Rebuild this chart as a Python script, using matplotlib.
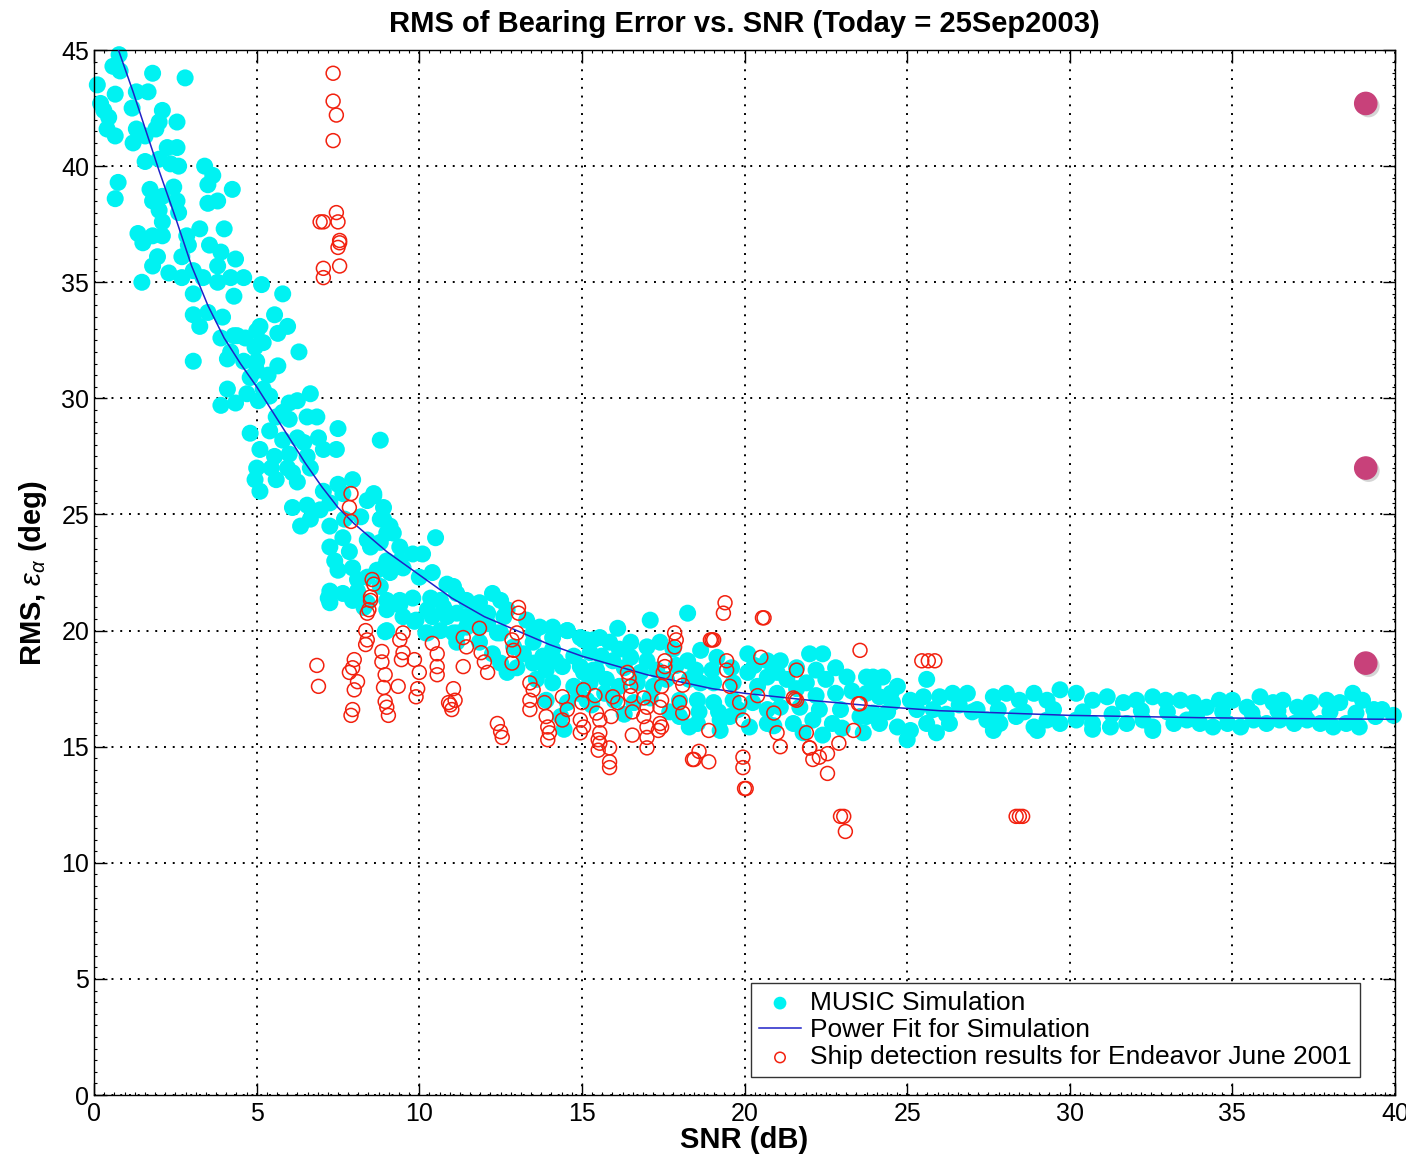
import matplotlib
matplotlib.use("Agg")
import matplotlib.pyplot as plt
import matplotlib.patheffects as pe
from matplotlib.ticker import MultipleLocator

plt.rcParams['font.family'] = ['Liberation Sans', 'DejaVu Sans']
plt.rcParams['mathtext.fontset'] = 'custom'
plt.rcParams['mathtext.rm'] = 'Liberation Sans'
plt.rcParams['mathtext.it'] = 'Liberation Sans:italic'
plt.rcParams['mathtext.bf'] = 'Liberation Sans:bold'

# MUSIC simulation (cyan dots)
sim_x = [0.77, 0.58, 0.8, 1.8, 2.8, 0.1, 0.65, 1.3, 1.66, 0.2, 0.3, 0.45, 0.4, 0.65, 1.17, 2.1, 2.0, 1.9,
         2.55, 1.3, 1.57, 1.2, 2.25, 2.55, 1.57, 2.0, 2.35, 2.6, 3.4, 3.65, 0.74, 0.65, 1.72, 1.8, 2.1, 2.45,
         2.55, 2.6, 3.5, 4.25, 3.5, 3.8, 2.0, 2.1, 2.1, 1.8, 1.35, 1.5, 3.25, 4.0, 2.85, 2.9, 3.55, 3.9, 3.8,
         4.35, 1.95, 1.8, 2.7, 2.3, 2.7, 3.05, 3.35, 3.8, 4.2, 4.6, 1.47, 5.15, 3.05, 4.3, 5.8, 3.05, 3.5, 3.95,
         5.55, 3.25, 4.4, 5.0, 5.95, 5.65,
         3.9, 4.3, 4.65, 5.1, 5.2, 4.95, 4.2, 4.1, 4.6, 5.0, 3.05, 6.3, 5.65, 5.35, 5.0, 4.8, 5.2, 4.7, 5.4,
         5.05, 4.1, 3.9, 4.35, 6.65, 6.0, 6.25, 5.8, 5.6, 6.0, 6.55, 6.85, 7.5, 4.8, 5.4, 5.8, 6.25, 6.45, 6.9,
         8.8, 5.1, 5.55, 6.0, 6.55, 7.05, 7.45, 5.0, 5.45, 5.95, 6.1, 6.65, 4.95, 5.6, 6.25, 7.5, 7.95, 5.1,
         7.05, 7.65, 8.6, 8.4, 8.9, 6.1, 6.55, 6.95, 7.25, 6.65, 6.35, 7.25, 7.7, 8.2, 8.8, 9.1, 7.65, 7.25,
         7.85, 8.4, 8.8, 7.4, 7.95, 7.5, 8.1, 8.4, 8.9, 9.0, 7.25, 7.65, 8.1,
         8.6, 8.9, 9.2, 9.4, 10.5, 8.5, 9.0, 9.8, 10.1, 9.4, 8.7, 9.1, 9.5, 10.0, 10.4, 10.85, 11.05, 7.2, 7.95,
         8.8, 9.0, 9.4, 9.8, 10.35, 10.65, 11.15, 11.45, 11.85, 12.25, 12.5, 8.3, 9.0, 9.5, 9.9, 10.4, 10.85,
         11.45, 12.1, 12.6, 13.3, 13.7, 14.1, 14.55, 15.05, 15.35, 9.0, 9.85, 10.2, 10.65, 11.15, 11.85, 12.5,
         13.5, 14.1, 14.55,
         7.25, 8.4, 9.4, 10.25, 10.75, 11.15, 11.75, 12.7, 10.25, 11.05, 11.45, 12.1, 12.4, 8.95, 11.15, 11.85,
         12.25, 12.5, 12.7, 13.0, 14.95, 13.5, 14.1, 14.75, 15.25, 13.5, 13.9, 14.4, 15.05, 15.45, 13.6, 14.1,
         14.75, 15.25, 13.9, 14.55, 15.15, 14.35, 14.45,
         16.1, 17.1, 18.25, 15.15, 15.55, 15.85, 16.15, 16.5, 17.0, 17.4, 17.8, 14.95, 15.35, 15.95, 16.5, 17.0,
         18.25, 18.65, 19.15, 15.25, 15.75, 16.15, 16.7, 17.2, 17.6, 18.3, 18.65, 19.05, 19.65, 20.1, 20.7,
         21.1, 22.0, 22.4, 20.1, 20.7, 21.3, 21.9, 22.5, 23.15, 23.75, 23.95, 18.0, 18.55, 19.05, 19.65, 20.25,
         20.7, 21.1, 21.7, 22.3, 22.95, 23.55, 23.95, 18.0, 18.55, 19.25, 19.55, 20.15, 20.7, 21.5, 22.1, 22.7,
         23.65, 18.3, 19.25, 16.0, 16.6, 17.1, 15.7, 15.3, 14.9, 17.7, 16.3,
         12.9, 13.2, 13.8, 14.2, 15.6, 16.3, 16.8, 17.3, 17.9, 18.5, 19.0, 19.6, 20.3, 21.0, 21.6, 22.2, 22.8,
         23.3, 22.8, 22.2, 21.6, 21.0, 20.4, 19.8, 19.2, 18.6, 20.9, 21.8, 22.4, 23.0, 24.5, 25.8, 26.6,
         23.95, 24.25, 24.7, 25.6, 23.75, 24.15, 24.55, 25.1, 25.5, 26.0, 26.4, 26.85, 23.75, 24.15, 24.7, 25.1,
         25.6, 25.9, 26.3, 25.0, 27.15, 27.65, 28.05, 28.45, 28.9, 29.3, 29.7, 30.2, 30.7, 31.15, 31.65, 32.05,
         32.55, 27.45, 27.85, 28.35, 28.9, 29.3, 29.7, 30.2, 30.7, 31.25, 31.75, 32.25, 32.55, 27.65, 29.0,
         30.7, 32.55, 32.95, 33.4, 33.8, 34.2, 34.6, 35.0, 35.45, 35.85, 36.25, 36.55, 37.0, 37.4, 37.9, 38.3,
         38.7, 39.0, 39.35, 33.2, 33.6, 34.0, 34.4, 34.85, 35.25, 35.65, 36.05, 36.45, 36.9, 37.3, 37.7, 38.1,
         38.5, 38.9, 39.4, 24.4, 25.3, 26.2, 27.0, 27.8, 28.6, 29.5, 30.4, 31.3, 32.2, 33.0, 33.9, 34.7, 35.6,
         36.4, 37.2, 38.0, 38.8, 39.6, 39.95]
sim_y = [44.8, 44.3, 44.1, 44.0, 43.8, 43.5, 43.1, 43.2, 43.2, 42.7, 42.4, 42.1, 41.6, 41.3, 42.5, 42.4, 41.9,
         41.6, 41.9, 41.6, 41.3, 41.0, 40.8, 40.8, 40.2, 40.3, 40.1, 40.0, 40.0, 39.6, 39.3, 38.6, 39.0, 38.5,
         38.7, 39.1, 38.5, 38.0, 39.2, 39.0, 38.4, 38.5, 38.1, 37.6, 37.0, 37.0, 37.1, 36.7, 37.3, 37.3, 37.0,
         36.6, 36.6, 36.3, 35.7, 36.0, 36.1, 35.7, 36.1, 35.4, 35.2, 35.5, 35.2, 35.0, 35.2, 35.2, 35.0, 34.9,
         34.5, 34.4, 34.5, 33.6, 33.7, 33.5, 33.6, 33.1, 32.7, 32.9, 33.1, 32.8,
         32.6, 32.7, 32.6, 33.1, 32.4, 32.2, 32.0, 31.7, 31.6, 31.6, 31.6, 32.0, 31.4, 31.0, 31.2, 30.9, 30.4,
         30.2, 30.1, 29.9, 30.4, 29.7, 29.8, 30.2, 29.8, 29.9, 29.4, 29.2, 29.1, 29.2, 29.2, 28.7, 28.5, 28.6,
         28.2, 28.3, 28.1, 28.3, 28.2, 27.8, 27.5, 27.6, 27.5, 27.8, 27.8, 27.0, 27.0, 27.0, 26.8, 27.0, 26.5,
         26.5, 26.4, 26.3, 26.5, 26.0, 26.0, 25.9, 25.9, 25.6, 25.3, 25.3, 25.4, 25.2, 25.5, 24.8, 24.5, 24.5,
         24.8, 24.9, 24.8, 24.5, 24.0, 23.6, 23.4, 23.9, 23.8, 23.0, 22.7, 22.6, 22.2, 22.3, 22.7, 23.0, 21.7,
         21.6, 21.7,
         25.8, 24.8, 24.2, 23.6, 24.0, 23.6, 24.2, 23.3, 23.3, 23.0, 22.6, 22.5, 22.7, 22.3, 22.5, 22.0, 21.9,
         21.4, 21.3, 21.9, 21.3, 21.3, 21.4, 21.4, 21.3, 21.6, 21.3, 21.2, 21.6, 21.3, 21.0, 20.9, 20.6, 20.45,
         20.6, 20.6, 20.6, 20.75, 20.6, 20.45, 20.15, 20.15, 20.0, 19.6, 19.6, 20.0, 20.4, 19.9, 20.0, 19.9,
         20.15, 19.9, 19.9, 19.7, 20.0,
         21.2, 21.2, 21.1, 20.9, 21.0, 20.75, 20.75, 20.9, 19.9, 19.9, 20.15, 20.3, 19.9, 19.95, 19.5, 19.5,
         19.0, 18.6, 18.2, 18.4, 19.7, 19.5, 19.2, 18.9, 19.05, 18.6, 18.3, 18.45, 18.2, 18.3, 17.9, 17.75,
         17.6, 17.75, 17.0, 16.9, 17.0, 16.3, 15.75,
         20.1, 20.45, 20.75, 19.6, 19.7, 19.5, 19.2, 19.5, 19.3, 19.5, 19.2, 18.45, 18.3, 18.7, 18.85, 18.7,
         18.7, 19.15, 18.85, 17.9, 17.9, 17.6, 17.75, 17.6, 17.9, 17.9, 17.75, 17.75, 17.75, 19.0, 18.7, 18.7,
         19.0, 19.0, 18.2, 18.0, 17.9, 17.75, 17.9, 18.0, 18.0, 17.6, 17.0, 17.0, 16.9, 17.0, 16.9, 16.6, 16.7,
         16.7, 16.6, 16.6, 16.3, 16.45, 16.3, 16.0, 16.15, 16.3, 15.85, 16.0, 16.0, 16.15, 16.0, 15.6, 15.85,
         15.7, 17.0, 16.9, 17.1, 17.3, 16.8, 17.3, 16.5, 16.4,
         19.3, 19.0, 18.9, 18.7, 18.9, 18.4, 18.2, 18.3, 18.5, 18.3, 18.3, 18.4, 18.5, 18.2, 18.4, 18.3, 18.4,
         17.4, 17.3, 17.2, 17.5, 17.3, 17.6, 16.6, 16.5, 16.5, 15.9, 15.6, 15.5, 15.8, 17.3, 16.6, 16.8,
         18.0, 18.0, 17.6, 17.9, 17.3, 17.15, 16.9, 17.0, 17.15, 17.15, 17.3, 17.3, 16.3, 16.0, 15.85, 15.7,
         16.0, 15.6, 16.0, 15.3, 16.6, 17.15, 17.3, 17.0, 17.3, 17.0, 17.45, 17.3, 17.0, 17.15, 16.9, 17.0,
         17.15, 16.15, 16.0, 16.3, 15.85, 16.15, 16.0, 16.15, 16.0, 15.85, 16.0, 16.15, 15.85, 15.7, 15.7,
         15.75, 15.7, 17.0, 17.0, 16.9, 16.7, 17.0, 17.0, 16.7, 17.15, 16.9, 17.0, 16.7, 16.9, 17.0, 16.9,
         17.3, 17.0, 16.6, 16.0, 16.15, 16.0, 15.85, 16.0, 15.85, 16.15, 16.0, 16.15, 16.0, 16.15, 16.0, 15.85,
         16.0, 15.85, 16.3, 16.5, 16.6, 16.4, 16.5, 16.6, 16.5, 16.6, 16.5, 16.4, 16.55, 16.5, 16.4, 16.5,
         16.45, 16.55, 16.4, 16.5, 16.45, 16.6, 16.35]

# Power fit for simulation
fit_x = [0.75, 1.2, 1.6, 2.0, 2.5, 3.0, 3.5, 4.0, 4.5, 5.0, 5.5, 6.0, 6.5, 7.0, 7.5, 8.0, 8.5, 9.0, 9.5,
         10, 11, 12, 13, 14, 15, 16, 17, 18, 19, 20, 22, 24, 26, 28, 30, 32, 34, 36, 38, 40]
fit_y = [45.0, 43.2, 41.5, 39.8, 37.8, 35.7, 34.0, 32.6, 31.5, 30.5, 29.4, 28.3, 27.2, 26.2, 25.3, 24.6,
         24.0, 23.4, 22.9, 22.4, 21.4, 20.6, 20.0, 19.4, 18.9, 18.5, 18.1, 17.8, 17.5, 17.3, 17.0, 16.75,
         16.55, 16.45, 16.35, 16.3, 16.25, 16.22, 16.2, 16.18]

# Ship detection results (red open circles)
ship_x = [7.35, 7.35, 7.45, 7.35, 7.45, 7.5, 6.95, 7.05, 7.55, 7.55, 7.5, 7.05, 7.05, 7.55,
          7.9, 7.85, 7.9, 8.55, 8.6, 8.5, 8.5, 8.45, 8.4, 13.05, 13.05, 13.0, 8.35, 8.4, 9.5, 9.4, 10.4,
          11.35, 11.45, 11.85, 6.85, 6.9, 8.35, 8.0, 7.95, 7.85, 8.1, 8.0, 7.95, 7.9, 8.85, 8.85, 8.95, 8.9,
          8.95, 9.0, 9.05, 9.35, 9.5, 9.45, 9.85, 10.0, 9.95, 9.9, 10.55, 10.55, 10.55, 11.05, 10.9, 11.0,
          11.1, 10.95, 11.35, 11.9, 12.0, 12.1, 12.85, 12.9, 12.85, 12.4, 12.5, 12.55, 13.4, 13.5, 13.4, 13.4,
          13.85, 13.9, 13.95, 14.0, 13.95, 14.4, 14.55, 14.4, 15.05, 15.0, 14.95, 14.95, 15.45, 15.5, 15.5,
          19.4, 19.35, 20.55, 17.85, 17.9, 17.85, 19.0, 23.55, 17.55, 17.55, 17.5, 17.45, 17.45, 17.4, 17.4,
          17.35, 19.45, 19.45, 20.5, 21.6, 16.4, 16.45, 16.5, 16.5, 16.55, 18.0, 18.1, 19.55, 20.4, 21.5,
          21.6, 23.5, 15.4, 15.95, 16.1, 16.9, 17.0, 15.55, 15.9, 16.9, 17.0, 17.45, 18.0, 18.1, 19.85, 19.95,
          20.9, 15.05, 15.55, 15.55, 15.85, 15.85, 15.85, 16.55, 17.0, 17.0, 18.9, 21.0, 21.1, 21.9, 22.0,
          22.1, 22.3, 22.55, 22.55, 22.9, 23.35, 18.4, 18.6, 18.9, 19.95, 19.95, 20.0, 22.95, 23.1, 23.05,
          25.45, 25.85, 25.65, 28.35, 28.55, 28.45,
          20.6, 19.05, 23.55, 21.55, 20.05, 18.45, 18.95, 22.0]
ship_y = [44.0, 42.8, 42.2, 41.1, 38.0, 37.6, 37.6, 37.6, 36.8, 36.7, 36.5, 35.6, 35.2, 35.7,
          25.9, 25.3, 24.7, 22.2, 22.0, 21.45, 21.3, 20.9, 20.75, 21.0, 20.75, 19.9, 20.0, 19.6, 19.9, 19.6,
          19.45, 19.7, 19.3, 20.1, 18.5, 17.6, 19.4, 18.75, 18.4, 18.2, 17.8, 17.45, 16.6, 16.35, 19.1, 18.65,
          18.1, 17.55, 16.95, 16.7, 16.35, 17.6, 19.05, 18.75, 18.75, 18.2, 17.5, 17.15, 19.0, 18.45, 18.1,
          17.5, 16.9, 16.6, 17.0, 16.8, 18.45, 19.05, 18.65, 18.2, 19.6, 19.15, 18.6, 16.0, 15.65, 15.4, 17.75,
          17.45, 17.0, 16.6, 16.9, 16.3, 15.85, 15.6, 15.3, 17.15, 16.6, 16.15, 17.45, 16.9, 16.15, 15.6,
          16.45, 15.3, 14.85,
          21.2, 20.75, 20.55, 19.9, 19.6, 19.3, 19.6, 19.15, 18.7, 18.45, 18.2, 17.6, 17.0, 16.7, 16.0, 15.7,
          18.7, 18.3, 18.85, 18.3, 18.2, 17.95, 17.6, 17.2, 16.5, 17.95, 17.65, 17.6, 17.2, 17.1, 17.0, 16.85,
          17.2, 17.15, 16.9, 17.1, 16.7, 16.15, 16.3, 16.3, 15.85, 15.85, 16.9, 16.45, 16.9, 16.15, 16.45,
          15.85, 15.6, 15.15, 14.95, 14.35, 14.1, 15.5, 15.4, 14.95, 15.7, 15.6, 15.0, 15.6, 14.95, 14.45,
          14.55, 14.7, 13.85, 15.15, 15.7, 14.45, 14.8, 14.35, 14.55, 14.1, 13.2, 12.0, 11.35, 12.0,
          18.7, 18.7, 18.7, 12.0, 12.0, 12.0,
          20.55, 19.6, 16.85, 17.05, 13.2, 14.45, 19.6, 14.95]

# slide decoration dots on the right edge
deco_x = [39.1, 39.1, 39.1]
deco_y = [42.7, 27.0, 18.6]

fig = plt.figure(figsize=(14.06, 11.61), dpi=100)
ax = fig.add_axes([0.0669, 0.0568, 0.9253, 0.9001])

ax.scatter(sim_x, sim_y, s=150, color='#00F2F2', edgecolors='none', zorder=2, clip_on=False,
           label='MUSIC Simulation')
ax.plot(fit_x, fit_y, color='#1F22C8', lw=1.1, zorder=3, label='Power Fit for Simulation')
ax.scatter(ship_x, ship_y, s=100, facecolors='none', edgecolors='#F2200E', linewidths=1.1, zorder=4,
           label='Ship detection results for Endeavor June 2001')
ax.plot(deco_x, deco_y, 'o', ms=16, color='#C8417A', zorder=6, clip_on=False,
        path_effects=[pe.SimplePatchShadow(offset=(2, -2), shadow_rgbFace='#888888', alpha=0.35), pe.Normal()])

ax.set_xlim(0, 40)
ax.set_ylim(0, 45)
ax.xaxis.set_major_locator(MultipleLocator(5))
ax.yaxis.set_major_locator(MultipleLocator(5))
ax.xaxis.set_minor_locator(MultipleLocator(5 / 16))
ax.yaxis.set_minor_locator(MultipleLocator(0.5))
ax.tick_params(which='both', direction='in', top=True, right=True, labelsize=18, color='black')
ax.tick_params(which='major', length=9, width=1)
ax.tick_params(which='minor', length=2.5, width=0.8)
ax.tick_params(axis='x', pad=5)
ax.grid(True, which='major', color='black', linestyle=(0, (1, 3.5)), lw=1.4)
ax.set_axisbelow(True)
for sp in ax.spines.values():
    sp.set_linewidth(1.0)

ax.set_title('RMS of Bearing Error vs. SNR (Today = 25Sep2003)', fontsize=21, fontweight='bold', pad=13)
ax.set_xlabel('SNR (dB)', fontsize=21, fontweight='bold', labelpad=0)
ax.set_ylabel(r'RMS, $\varepsilon_\alpha$ (deg)', fontsize=21, fontweight='bold', labelpad=9)

leg = ax.legend(loc='lower right', bbox_to_anchor=(0.973, 0.017), borderaxespad=0, fontsize=19,
                fancybox=False, framealpha=1, edgecolor='#333333', markerscale=0.75,
                labelspacing=0.12, handlelength=1.6, handletextpad=0.35, borderpad=0.3)
leg.get_frame().set_linewidth(1.0)

plt.savefig('out.png', dpi=100)
